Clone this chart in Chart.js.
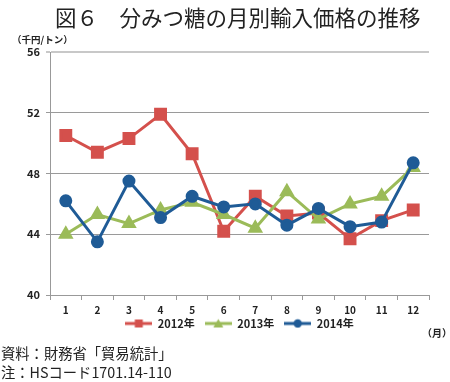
<!DOCTYPE html>
<html>
<head>
<meta charset="utf-8">
<script src="https://cdn.jsdelivr.net/npm/chart.js@4/dist/chart.umd.min.js"></script>
<style>
body { margin: 0; background: #fff; font-family: 'Noto Sans CJK JP', sans-serif; color: #222; }
#wrap { position: relative; width: 450px; height: 382px; }
#graf { position: absolute; left: 0; top: 0; }
.txt { position: absolute; white-space: nowrap; }
</style>
</head>
<body>
<div id="wrap">
  <canvas id="graf" width="450" height="382"></canvas>
  <div class="txt" style="left:55px; top:1px; font-size:21.5px;">図６　分みつ糖の月別輸入価格の推移</div>
  <div class="txt" style="left:12px; top:32px; font-size:9.5px; font-weight:bold;">（千円/トン）</div>
  <div class="txt" style="left:422px; top:325px; font-size:10px; font-weight:bold;">（月）</div>
  <div class="txt" style="left:1px; top:342px; font-size:14.3px;">資料：財務省「貿易統計」</div>
  <div class="txt" style="left:1px; top:361px; font-size:14.3px;">注：HSコード1701.14-110</div>
</div>
<script>
const meses = ['1', '2', '3', '4', '5', '6', '7', '8', '9', '10', '11', '12']
const series = ['2012年', '2013年', '2014年']
const precos2012 = [50.5, 49.4, 50.3, 51.9, 49.3, 44.2, 46.5, 45.2, 45.4, 43.7, 44.9, 45.6]
const precos2013 = [44.0, 45.3, 44.7, 45.6, 46.1, 45.3, 44.4, 46.8, 45.0, 46.0, 46.5, 48.4]
const precos2014 = [46.2, 43.5, 47.5, 45.1, 46.5, 45.8, 46.0, 44.6, 45.7, 44.5, 44.8, 48.7]
const yTicks = [40, 44, 48, 52, 56]

const vermelho = '#D4504C'
const verde = '#9BBB59'
const azul = '#1F5B96'

// icone da legenda: linha com o marcador no meio
function iconeLegenda(cor, estilo) {
    const c = document.createElement('canvas')
    c.width = 27
    c.height = 12
    const g = c.getContext('2d')
    g.strokeStyle = cor
    g.fillStyle = cor
    g.lineWidth = 3
    g.beginPath()
    g.moveTo(0, 6)
    g.lineTo(27, 6)
    g.stroke()
    g.beginPath()
    if (estilo === 'rect') {
        g.rect(9.5, 2, 8, 8)
    } else if (estilo === 'triangle') {
        g.moveTo(13.5, 1.5)
        g.lineTo(18.5, 10)
        g.lineTo(8.5, 10)
        g.closePath()
    } else {
        g.arc(13.5, 6, 4.2, 0, Math.PI * 2)
    }
    g.fill()
    return c
}
const icones = [iconeLegenda(vermelho, 'rect'), iconeLegenda(verde, 'triangle'), iconeLegenda(azul, 'circle')]

Chart.defaults.font.family = "'Noto Sans CJK JP', sans-serif"
Chart.defaults.color = '#222'

const legendaFixa = {
    id: 'legendaFixa',
    beforeInit(chart) {
        const fit = chart.legend.fit
        chart.legend.fit = function () {
            fit.call(this)
            this.height = 20
        }
    },
    afterLayout(chart) {
        // sobe a legenda para perto dos rótulos do eixo x
        chart.legend.top -= 9
        chart.legend.bottom -= 9
    }
}

const ctx = document.getElementById('graf').getContext('2d')
const chart = new Chart(ctx, {
    type: 'line',
    data: {
        labels: meses,
        datasets: [{
                label: series[0],
                data: precos2012,
                borderColor: vermelho,
                backgroundColor: vermelho,
                borderWidth: 3,
                pointStyle: 'rect',
                pointRadius: 7,
                pointHoverRadius: 7,
                order: 2,
                tension: 0
            }, {
                label: series[1],
                data: precos2013,
                borderColor: verde,
                backgroundColor: verde,
                borderWidth: 3,
                pointStyle: 'triangle',
                pointRadius: 6,
                pointHoverRadius: 6,
                order: 1,
                tension: 0
            }, {
                label: series[2],
                data: precos2014,
                borderColor: azul,
                backgroundColor: azul,
                borderWidth: 3,
                pointStyle: 'circle',
                pointRadius: 5,
                pointHoverRadius: 5,
                order: 0,
                tension: 0
            }]
    },
    options: {
        responsive: false,
        animation: false,
        layout: {
            padding: { left: 0, right: 21, top: 52, bottom: 45 }
        },
        plugins: {
            title: { display: false },
            tooltip: { enabled: false },
            legend: {
                position: 'bottom',
                fullSize: false,
                labels: {
                    usePointStyle: true,
                    pointStyleWidth: 27,
                    padding: 10,
                    font: { size: 11, weight: 'bold' },
                    color: '#222',
                    sort: (a, b) => a.datasetIndex - b.datasetIndex,
                    generateLabels(chart) {
                        const itens = Chart.defaults.plugins.legend.labels.generateLabels(chart)
                        itens.forEach(it => { it.pointStyle = icones[it.datasetIndex] })
                        return itens
                    }
                }
            }
        },
        scales: {
            x: {
                offset: true,
                grid: {
                    offset: true,
                    drawOnChartArea: false,
                    drawTicks: true,
                    tickLength: 5,
                    color: '#999'
                },
                border: { color: '#999', width: 1 },
                ticks: {
                    font: { size: 10, weight: 'bold' },
                    color: '#222',
                    padding: 4,
                    maxRotation: 0
                },
                afterFit(scale) { scale.height = 22 }
            },
            y: {
                min: 40,
                max: 56,
                afterBuildTicks(scale) { scale.ticks = yTicks.map(v => ({ value: v })) },
                grid: {
                    color: c => c.tick && c.tick.value === 56 ? '#c8c8c8' : '#9a9a9a',
                    lineWidth: c => c.tick && c.tick.value === 56 ? 2 : 1,
                    tickLength: 4
                },
                border: { color: '#999', width: 1 },
                ticks: {
                    font: { size: 11, weight: 'bold' },
                    color: '#222',
                    padding: 6
                },
                afterFit(scale) { scale.width = 50 }
            }
        }
    },
    plugins: [legendaFixa]
})
</script>
</body>
</html>
